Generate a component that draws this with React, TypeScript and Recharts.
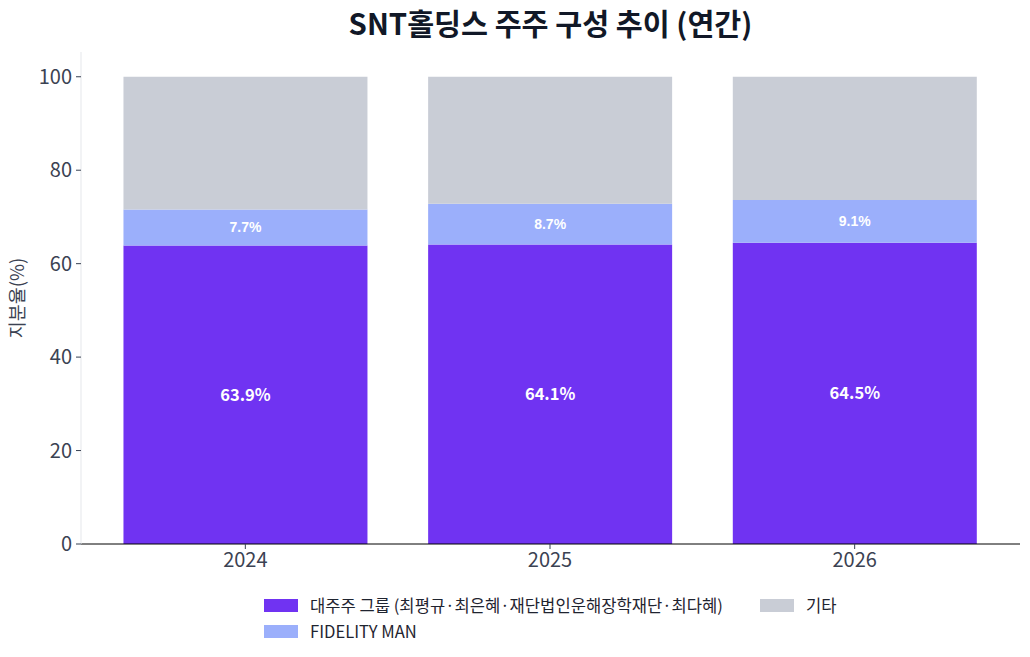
import { BarChart, Bar, XAxis, YAxis, LabelList } from "recharts"

const years = ["2024", "2025", "2026"]
const majorGroup = [63.9, 64.1, 64.5]
const fidelity = [7.7, 8.7, 9.1]
const others = [28.4, 27.2, 26.4]
const yTicks = [0, 20, 40, 60, 80, 100]

const seriesNames = {
  major: "대주주 그룹 (최평규·최은혜·재단법인운해장학재단·최다혜)",
  fidelity: "FIDELITY MAN",
  others: "기타",
}

const colors = {
  major: "#7033F2",
  fidelity: "#9BAFFB",
  others: "#C9CDD6",
}

const data = years.map((year, i) => ({
  year,
  major: majorGroup[i],
  fidelity: fidelity[i],
  others: others[i],
}))

const font = "'Noto Sans CJK KR', 'Noto Sans', sans-serif"

function LegendItem({ name, color }: { name: string; color: string }) {
  return (
    <div style={{ display: "flex", alignItems: "center", height: 26 }}>
      <span style={{ width: 34, height: 13, background: color, display: "inline-block", marginRight: 12 }} />
      <span style={{ fontSize: 16.6, color: "#1f2430" }}>{name}</span>
    </div>
  )
}

export default function App() {
  return (
    <div style={{ position: "absolute", left: 0, top: 0, width: 1030, height: 657, background: "#fff", fontFamily: font }}>
      <div
        style={{
          position: "absolute",
          left: 81,
          width: 939,
          top: 1,
          textAlign: "center",
          fontSize: 29.3,
          fontWeight: 700,
          color: "#111827",
        }}
      >
        SNT홀딩스 주주 구성 추이 (연간)
      </div>
      <BarChart
        width={1030}
        height={657}
        data={data}
        margin={{ top: 52, right: 10, bottom: 83, left: 0 }}
        barCategoryGap="10%"
      >
        <XAxis
          dataKey="year"
          height={30}
          padding={{ left: 12, right: 13 }}
          axisLine={{ stroke: "#000" }}
          tickLine={{ stroke: "#374151" }}
          tickSize={5}
          tickMargin={4}
          tick={{ fontSize: 20, fill: "#3b4252", fontFamily: font }}
        />
        <YAxis
          width={81}
          domain={[0, 105.3]}
          ticks={yTicks}
          axisLine={{ stroke: "#e5e7eb" }}
          tickLine={{ stroke: "#374151" }}
          tickSize={5}
          tickMargin={4}
          tick={{ fontSize: 20, fill: "#3b4252", fontFamily: font }}
          label={{
            value: "지분율(%)",
            angle: -90,
            position: "insideLeft",
            dx: 12,
            style: { fontSize: 18.5, fill: "#3b4252", fontFamily: font, textAnchor: "middle" },
          }}
        />
        <Bar dataKey="major" name={seriesNames.major} stackId="a" fill={colors.major} isAnimationActive={false}>
          <LabelList
            dataKey="major"
            position="center"
            formatter={(v: any) => `${v}%`}
            style={{ fill: "#fff", fontSize: 16.5, fontWeight: 700, fontFamily: font }}
          />
        </Bar>
        <Bar dataKey="fidelity" name={seriesNames.fidelity} stackId="a" fill={colors.fidelity} isAnimationActive={false}>
          <LabelList
            dataKey="fidelity"
            position="center"
            formatter={(v: any) => `${v}%`}
            style={{ fill: "#fff", fontSize: 14, fontWeight: 700, fontFamily: "'Liberation Sans', sans-serif" }}
          />
        </Bar>
        <Bar dataKey="others" name={seriesNames.others} stackId="a" fill={colors.others} isAnimationActive={false} />
      </BarChart>
      <div
        style={{
          position: "absolute",
          left: 264,
          top: 592,
          display: "grid",
          gridTemplateColumns: "496px auto",
        }}
      >
        <LegendItem name={seriesNames.major} color={colors.major} />
        <LegendItem name={seriesNames.others} color={colors.others} />
        <LegendItem name={seriesNames.fidelity} color={colors.fidelity} />
      </div>
    </div>
  )
}
